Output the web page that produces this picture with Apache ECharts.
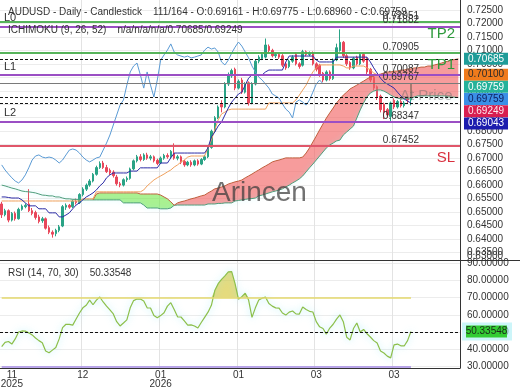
<!DOCTYPE html>
<html><head><meta charset="utf-8">
<script src="https://cdn.jsdelivr.net/npm/echarts@6/dist/echarts.min.js"></script>
<style>html,body{margin:0;padding:0;background:#fff}#c{width:520px;height:390px}</style>
</head><body><div id="c"></div>
<script>
const FONT = 'Liberation Sans, Arial, sans-serif';
const SLOTS = 136;
const xLabels = ['11\n2025','12','01\n2026','01','03','03'];
const xLabelIdx = [3,24,47,70,93,116];
const xGridIdx = [24,47,70,93,116];
const yTicks = [0.635,0.64,0.645,0.65,0.655,0.66,0.665,0.67,0.675,0.68,0.685,0.69,0.695,0.70,0.705,0.71,0.715,0.72,0.725];
const yBottomLabel = '0.63000';
const rsiTicks = [30,40,50,60,70,80,90];

const open = [
0.6530,0.6490,0.6505,0.6470,0.6495,0.6475,0.6510,0.6520,0.6530,0.6505,
0.6498,0.6482,0.6468,0.6475,0.6442,0.6425,0.6420,0.6432,0.6448,0.6518,
0.6525,0.6520,0.6540,0.6535,0.6565,0.6585,0.6600,0.6615,0.6640,0.6665,
0.6682,0.6665,0.6655,0.6648,0.6630,0.6605,0.6600,0.6620,0.6625,0.6660,
0.6690,0.6705,0.6695,0.6712,0.6700,0.6705,0.6692,0.6682,0.6700,0.6710,
0.6705,0.6718,0.6700,0.6705,0.6688,0.6675,0.6685,0.6675,0.6690,0.6678,
0.6695,0.6705,0.6740,0.6800,0.6850,0.6900,0.6890,0.6975,0.7005,0.7030,
0.6960,0.6990,0.6945,0.6980,0.6905,0.6975,0.7060,0.7070,0.7075,0.7115,
0.7100,0.7080,0.7085,0.7080,0.7050,0.7040,0.7060,0.7085,0.7050,0.7045,
0.7095,0.7085,0.7090,0.7050,0.7045,0.7015,0.6990,0.7020,0.6995,0.7065,
0.7100,0.7130,0.7080,0.7055,0.7035,0.7075,0.7050,0.7085,0.7070,0.7030,
0.7000,0.6965,0.6930,0.6900,0.6880,0.6855,0.6915,0.6890,0.6910,0.6895,
0.6920,0.69161];
const close = [
0.6490,0.6505,0.6470,0.6495,0.6475,0.6510,0.6522,0.6525,0.6505,0.6495,
0.6480,0.6465,0.6475,0.6440,0.6425,0.6418,0.6432,0.6445,0.6520,0.6525,
0.6518,0.6540,0.6535,0.6565,0.6585,0.6600,0.6615,0.6640,0.6665,0.6680,
0.6665,0.6650,0.6645,0.6635,0.6605,0.6600,0.6620,0.6625,0.6660,0.6690,
0.6705,0.6695,0.6712,0.6700,0.6705,0.6690,0.6680,0.6700,0.6710,0.6705,
0.6725,0.6700,0.6705,0.6685,0.6675,0.6685,0.6675,0.6690,0.6678,0.6695,
0.6705,0.6740,0.6800,0.6850,0.6890,0.6890,0.6975,0.7010,0.7025,0.6960,
0.6985,0.6945,0.6975,0.6905,0.6975,0.7060,0.7075,0.7085,0.7120,0.7100,
0.7080,0.7085,0.7075,0.7045,0.7035,0.7060,0.7075,0.7050,0.7040,0.7095,
0.7085,0.7090,0.7050,0.7030,0.7010,0.6990,0.7020,0.6995,0.7065,0.7110,
0.7130,0.7080,0.7050,0.7035,0.7070,0.7050,0.7085,0.7060,0.7020,0.6990,
0.6960,0.6925,0.6880,0.6870,0.6860,0.6905,0.6890,0.6910,0.6895,0.6905,
0.6916,0.69759];
const low = [
0.6478,0.6484,0.6462,0.6465,0.6468,0.6472,0.6505,0.6514,0.6500,0.6488,
0.6472,0.6458,0.6460,0.6435,0.6418,0.6405,0.6410,0.6425,0.6444,0.6508,
0.6512,0.6515,0.6528,0.6530,0.6558,0.6578,0.6594,0.6610,0.6635,0.6660,
0.6660,0.6645,0.6638,0.6628,0.6598,0.6592,0.6595,0.6612,0.6620,0.6655,
0.6684,0.6688,0.6690,0.6694,0.6692,0.6684,0.6674,0.6678,0.6694,0.6698,
0.6700,0.6694,0.6692,0.6678,0.6668,0.6670,0.6668,0.6670,0.6672,0.6674,
0.6690,0.6700,0.6735,0.6795,0.6845,0.6870,0.6885,0.6968,0.6998,0.6952,
0.6955,0.6938,0.6940,0.6895,0.6900,0.6970,0.7052,0.7064,0.7070,0.7092,
0.7074,0.7072,0.7068,0.7038,0.7028,0.7034,0.7054,0.7044,0.7032,0.7040,
0.7078,0.7078,0.7044,0.7022,0.7002,0.6982,0.6985,0.6988,0.6990,0.7060,
0.7095,0.7072,0.7042,0.7028,0.7030,0.7044,0.7045,0.7054,0.7012,0.6982,
0.6952,0.6916,0.6870,0.6845,0.6850,0.6835,0.6882,0.6884,0.6888,0.6888,
0.6905,0.68960];
const high = [
0.6538,0.6512,0.6510,0.6500,0.6502,0.6516,0.6528,0.6532,0.6585,0.6515,
0.6505,0.6490,0.6482,0.6480,0.6450,0.6432,0.6438,0.6452,0.6526,0.6532,
0.6530,0.6546,0.6550,0.6570,0.6592,0.6606,0.6622,0.6645,0.6672,0.6688,
0.6690,0.6675,0.6662,0.6655,0.6638,0.6612,0.6625,0.6632,0.6665,0.6695,
0.6712,0.6715,0.6718,0.6720,0.6712,0.6710,0.6698,0.6706,0.6716,0.6718,
0.6730,0.6755,0.6712,0.6710,0.6694,0.6690,0.6692,0.6695,0.6696,0.6700,
0.6712,0.6745,0.6806,0.6856,0.6896,0.6915,0.6982,0.7018,0.7032,0.7036,
0.6992,0.6998,0.6982,0.6985,0.6982,0.7066,0.7082,0.7092,0.7144,0.7122,
0.7106,0.7092,0.7090,0.7086,0.7056,0.7066,0.7082,0.7092,0.7056,0.7102,
0.7100,0.7096,0.7096,0.7056,0.7050,0.7020,0.7026,0.7026,0.7070,0.7125,
0.7178,0.7135,0.7086,0.7060,0.7076,0.7080,0.7092,0.7090,0.7075,0.7035,
0.7005,0.6970,0.6936,0.6906,0.6886,0.6910,0.6922,0.6916,0.6918,0.6912,
0.6930,0.69775];

const tenkan = [
0.6556,0.6556,0.6554,0.6552,0.6552,0.6552,0.6545,0.6534,0.6523,0.6523,
0.6523,0.6512,0.6512,0.6512,0.6497,0.6497,0.6497,0.6482,0.6482,0.6489,
0.6497,0.6512,0.6526,0.6534,0.6545,0.6556,0.6563,0.6571,0.6582,0.6597,
0.6608,0.6627,0.6638,0.6645,0.6645,0.6645,0.6645,0.6645,0.6652,0.6652,
0.6652,0.6664,0.6664,0.6664,0.6664,0.6664,0.6664,0.6682,0.6682,0.6682,
0.6701,0.6719,0.6719,0.6719,0.6719,0.6719,0.6719,0.6719,0.6719,0.6719,
0.6719,0.6738,0.6779,0.6797,0.6819,0.6834,0.6860,0.6886,0.6908,0.6923,
0.6938,0.6945,0.6971,0.6997,0.7009,0.7009,0.7009,0.7009,0.7020,0.7027,
0.7027,0.7027,0.7027,0.7027,0.7057,0.7079,0.7079,0.7079,0.7079,0.7079,
0.7079,0.7079,0.7079,0.7064,0.7057,0.7057,0.7057,0.7057,0.7057,0.7075,
0.7075,0.7075,0.7075,0.7075,0.7075,0.7075,0.7075,0.7075,0.7075,0.7057,
0.7035,0.7016,0.6997,0.6983,0.6975,0.6968,0.6960,0.6945,0.6931,0.6920,
0.6912,0.69043];
const kijun = [
0.6541,0.6541,0.6541,0.6541,0.6541,0.6541,0.6541,0.6541,0.6541,0.6541,
0.6541,0.6541,0.6541,0.6541,0.6541,0.6541,0.6541,0.6541,0.6541,0.6541,
0.6541,0.6541,0.6541,0.6541,0.6549,0.6549,0.6549,0.6549,0.6575,0.6575,
0.6575,0.6575,0.6575,0.6575,0.6575,0.6575,0.6575,0.6575,0.6575,0.6575,
0.6575,0.6575,0.6582,0.6597,0.6608,0.6619,0.6627,0.6634,0.6641,0.6649,
0.6656,0.6667,0.6675,0.6686,0.6693,0.6704,0.6708,0.6708,0.6708,0.6708,
0.6708,0.6738,0.6767,0.6805,0.6842,0.6864,0.6871,0.6879,0.6882,0.6882,
0.6882,0.6882,0.6882,0.6882,0.6882,0.6882,0.6882,0.6882,0.6882,0.6905,
0.6905,0.6905,0.6905,0.6905,0.6905,0.6905,0.6905,0.6916,0.6934,0.6953,
0.6971,0.6997,0.7020,0.7035,0.7046,0.7046,0.7046,0.7046,0.7046,0.7046,
0.7046,0.7042,0.7035,0.7035,0.7042,0.7042,0.7042,0.7042,0.7035,0.7027,
0.7016,0.7010,0.7010,0.7010,0.7010,0.7010,0.7010,0.7010,0.7010,0.7010,
0.7010,0.7010];
const chikou = [
0.6675,0.6656,0.6641,0.6627,0.6615,0.6608,0.6619,0.6638,0.6664,0.6693,
0.6708,0.6712,0.6704,0.6701,0.6704,0.6701,0.6693,0.6682,0.6693,0.6712,
0.6730,0.6734,0.6730,0.6719,0.6704,0.6693,0.6686,0.6693,0.6701,0.6704,
0.6730,0.6756,0.6786,0.6823,0.6860,0.6897,0.6916,0.6971,0.7020,0.7042,
0.7053,0.7009,0.6960,0.7020,0.6971,0.6927,0.6990,0.7064,0.7083,0.7101,
0.7124,0.7094,0.7083,0.7079,0.7075,0.7079,0.7072,0.7075,0.7079,0.7083,
0.7101,0.7112,0.7105,0.7109,0.7094,0.7057,0.7046,0.7064,0.7090,0.7112,
0.7131,0.7116,0.7094,0.7072,0.7042,0.7020,0.7001,0.6990,0.6975,0.6960,
0.6938,0.6931,0.6923,0.6901,0.6882,0.6871,0.6849,0.6908,0.6916,0.6908,
0.6897,0.6916,0.6945,0.6975,0.6990,0.69759];
const spanA = [
0.6600,0.6597,0.6593,0.6589,0.6586,0.6582,0.6578,0.6576,0.6575,0.6573,
0.6571,0.6567,0.6563,0.6562,0.6560,0.6560,0.6556,0.6556,0.6552,0.6549,
0.6549,0.6547,0.6547,0.6545,0.6545,0.6545,0.6545,0.6545,0.6545,0.6545,
0.6545,0.6545,0.6545,0.6545,0.6545,0.6545,0.6534,0.6534,0.6534,0.6534,
0.6534,0.6534,0.6526,0.6515,0.6515,0.6515,0.6515,0.6512,0.6512,0.6512,
0.6515,0.6525,0.6526,0.6526,0.6526,0.6526,0.6526,0.6526,0.6526,0.6526,
0.6526,0.6530,0.6530,0.6530,0.6532,0.6532,0.6534,0.6534,0.6534,0.6541,
0.6543,0.6545,0.6547,0.6549,0.6550,0.6552,0.6560,0.6563,0.6567,0.6571,
0.6575,0.6578,0.6582,0.6586,0.6593,0.6600,0.6608,0.6615,0.6623,0.6634,
0.6649,0.6664,0.6678,0.6693,0.6708,0.6723,0.6738,0.6749,0.6756,0.6764,
0.6767,0.6786,0.6797,0.6808,0.6819,0.6849,0.6879,0.6905,0.6927,0.6942,
0.6949,0.6953,0.6953,0.6949,0.6942,0.6934,0.6927,0.6923,0.6920,0.6920,
0.6923,0.6923,0.6927,0.6931,0.6931,0.6931,0.6931,0.6931,0.6931,0.6931,
0.6931,0.6931,0.6927,0.6927,0.6926,0.69249];
const spanB = [
null,null,null,null,null,null,null,null,null,null,
null,null,null,null,null,null,null,null,null,null,
null,null,null,null,null,null,null,0.6545,0.6567,0.6571,
0.6571,0.6571,0.6571,0.6571,0.6571,0.6571,0.6571,0.6571,0.6571,0.6571,
0.6571,0.6567,0.6567,0.6567,0.6567,0.6567,0.6567,0.6563,0.6556,0.6549,
0.6538,0.6525,0.6534,0.6538,0.6541,0.6545,0.6549,0.6552,0.6556,0.6560,
0.6563,0.6571,0.6578,0.6586,0.6589,0.6593,0.6597,0.6604,0.6608,0.6612,
0.6615,0.6619,0.6627,0.6634,0.6641,0.6649,0.6656,0.6664,0.6671,0.6678,
0.6686,0.6690,0.6693,0.6697,0.6701,0.6701,0.6701,0.6701,0.6701,0.6704,
0.6719,0.6738,0.6760,0.6782,0.6805,0.6827,0.6849,0.6868,0.6886,0.6905,
0.6920,0.6934,0.6945,0.6957,0.6964,0.6971,0.6979,0.6986,0.6994,0.7001,
0.7005,0.7009,0.7012,0.7016,0.7020,0.7020,0.7023,0.7023,0.7027,0.7027,
0.7031,0.7031,0.7035,0.7035,0.7038,0.7038,0.7042,0.7042,0.7046,0.7049,
0.7053,0.7057,0.7060,0.7064,0.7066,0.70685];
const GREEN_END = 51;

const rsi = [
41.5,44,44.5,43,46,50,50.6,50.5,49.5,48.3,
46.5,45,43.8,39,38,39.5,41,46,52.5,54.5,
54.4,54,57.5,61,64,65.5,68.5,65.8,68.5,70.3,
67.4,65,62.8,60.5,56,53.5,55.2,57,64,68.2,
69.1,69.1,68,64,63.9,59.5,58.2,59.5,61.2,65,
67,63,58.8,58.7,56.5,54,54.1,53.5,52.3,55.5,
58.5,61.5,65.5,74,78,80.5,82.5,84.8,85,78,
69,70.5,72.5,68.5,58.5,64,68.5,69.6,70.2,66.5,
65,64,63.8,61,59.8,61.5,62.2,60.5,60.4,64.5,
63,62,61.6,56,53,52,48.8,52.3,54.5,57.5,
59.9,56,47,45.4,52,55.2,50,51.5,49,47.1,
45,43.6,39,37.8,36,35,42.5,43,42,41.9,
45,50.33548];

const levelVals = [0.72051,0.71882,0.70905,0.70685,0.70087,0.69767,0.69249,0.69043,0.68347,0.67452];
const levelText = ['0.72051','0.71882','0.70905','0.70685','0.70087','0.69767','0.69249','0.69043','0.68347','0.67452'];
const levelKind = ['green','purple','green','dash','purple','gray','dash','dash','purple','red'];
const levelLeft = {0.71882:'L0',0.70087:'L1',0.68347:'L2'};
const levelBig = {0.72051:'TP2',0.70905:'TP1',0.67452:'SL'};
const tagVals = [0.70685,0.70100,0.69759,0.69759,0.69249,0.69043];
const tagFill = ['#1f9c98','#f07b1c','#25b29a','#3b8fe6','#d81e50','#1c1cae'];
const tagText = ['#ffffff','#2a2a2a','#ffffff','#102060','#ffe8ee','#ffffff'];
const rsiLast = 50.33548;

const cats = Array.from({length: SLOTS}, (_, i) => String(i));
const candles = open.map((o, i) => [o, close[i], low[i], high[i]]);
const baseG = [], diffG = [], baseR = [], diffR = [];
for (let i = 0; i < SLOTS; i++) {
  const a = spanA[i], b = spanB[i];
  const ok = a != null && b != null;
  const lo = ok ? Math.min(a, b) : null, d = ok ? Math.abs(a - b) : null;
  baseG.push(ok && i <= GREEN_END ? lo : null);
  diffG.push(ok && i <= GREEN_END ? d : null);
  baseR.push(ok && i >= GREEN_END ? lo : null);
  diffR.push(ok && i >= GREEN_END ? d : null);
}
const rsiOver = rsi.map(v => Math.max(v, 70));

const styleOf = {
  green: {color:'#4caf50', width:1.5, type:'solid'},
  purple: {color:'#9b4fc4', width:1.8, type:'solid'},
  dash: {color:'#111111', width:1, type:[3,2]},
  gray: {color:'#7a7a7a', width:1, type:'solid'},
  red: {color:'#e0566a', width:2, type:'solid'}
};
const mlData = [];
levelVals.forEach((v, k) => {
  const kind = levelKind[k];
  mlData.push({yAxis: v, lineStyle: styleOf[kind], label: {show: kind !== 'dash', position:'insideEndTop', distance:[41,1],
    formatter: levelText[k], color:'#333', fontSize:10, fontFamily: FONT}});
  if (levelLeft[v]) mlData.push({yAxis: v, lineStyle: styleOf[kind], label: {show:true, position:'insideStartTop', distance:[4,3],
    formatter: levelLeft[v], color:'#333', fontSize:11, fontFamily: FONT}});
  if (levelBig[v]) mlData.push({yAxis: v, lineStyle: styleOf[kind], label: {show:true, position:'insideEndBottom', distance:[5,4],
    formatter: levelBig[v], color: kind === 'red' ? '#d9303e' : '#2e9a3c', fontSize:15, fontFamily: FONT}});
});

const lineS = (name, data, color, extra) => Object.assign({
  type:'line', name, data, xAxisIndex:0, yAxisIndex:0, symbol:'none', silent:true,
  lineStyle:{color, width:1}, connectNulls:false
}, extra || {});

const option = {
  animation: false,
  backgroundColor: '#fff',
  textStyle: {fontFamily: FONT},
  grid: [
    {left:0, right:60, top:0, height:260, outerBoundsMode:'none', containLabel:false},
    {left:0, right:60, top:260, height:108, outerBoundsMode:'none', containLabel:false}
  ],
  xAxis: [
    {type:'category', gridIndex:0, data:cats, boundaryGap:true,
     axisLine:{show:true, lineStyle:{color:'#333', width:1}}, axisTick:{show:false}, axisLabel:{show:false},
     splitLine:{show:true, interval:(i) => xGridIdx.includes(i), lineStyle:{color:'#e3e3e3', width:1}}},
    {type:'category', gridIndex:1, data:cats, boundaryGap:true,
     axisLine:{show:true, lineStyle:{color:'#333', width:1}}, axisTick:{show:false},
     axisLabel:{show:true, interval:(i) => xLabelIdx.includes(i), formatter:(v, i) => { const k = xLabelIdx.indexOf(i); return k >= 0 ? xLabels[k] : ''; },
       color:'#333', fontSize:10, lineHeight:9, margin:3, fontFamily:FONT, hideOverlap:false},
     splitLine:{show:true, interval:(i) => xGridIdx.includes(i), lineStyle:{color:'#e3e3e3', width:1}}}
  ],
  yAxis: [
    {type:'value', gridIndex:0, position:'right', min:0.6322, max:0.7287, scale:true,
     axisLine:{show:true, lineStyle:{color:'#333', width:1}},
     axisTick:{show:false, customValues: yTicks},
     axisLabel:{customValues: yTicks, hideOverlap:false, formatter: v => v.toFixed(5), color:'#333', fontSize:10, margin:7, fontFamily:FONT},
     splitLine:{show:true, lineStyle:{color:'#ececec', width:1}}},
    {type:'value', gridIndex:1, position:'right', min:29.13, max:91.74,
     axisLine:{show:true, lineStyle:{color:'#333', width:1}},
     axisTick:{show:false, customValues: rsiTicks},
     axisLabel:{customValues: rsiTicks, hideOverlap:false, formatter: v => v.toFixed(5), color:'#333', fontSize:10, margin:7, fontFamily:FONT},
     splitLine:{show:true, lineStyle:{color:'#ececec', width:1}}}
  ],
  series: [
    lineS('baseG', baseG, 'transparent', {stack:'g', lineStyle:{opacity:0}}),
    lineS('cloudG', diffG, 'transparent', {stack:'g', lineStyle:{opacity:0}, areaStyle:{color:'rgba(110,232,70,0.85)'}}),
    lineS('baseR', baseR, 'transparent', {stack:'r', lineStyle:{opacity:0}}),
    lineS('cloudR', diffR, 'transparent', {stack:'r', lineStyle:{opacity:0}, areaStyle:{color:'rgba(242,98,98,0.9)'}}),
    lineS('spanA', spanA, '#4f9e7c', {lineStyle:{color:'#4f9e7c', width:1, shadowColor:'rgba(150,240,250,0.6)', shadowBlur:5}}),
    lineS('spanB', spanB, '#c0603e'),
    lineS('kijun', kijun, '#f0a05c'),
    lineS('tenkan', tenkan, '#2b2ba6'),
    lineS('chikou', chikou, '#5b9bd5'),
    {type:'candlestick', name:'AUDUSD', xAxisIndex:0, yAxisIndex:0, data:candles, barWidth:2, silent:true,
     itemStyle:{color:'#2aa386', color0:'#e8475a', borderColor:'#2aa386', borderColor0:'#e8475a', borderWidth:1},
     markLine:{symbol:['none','none'], silent:true, animation:false, precision:5, data: mlData}},
    {type:'line', name:'rsiOver', xAxisIndex:1, yAxisIndex:1, data:rsiOver, symbol:'none', silent:true,
     lineStyle:{opacity:0}, areaStyle:{origin:70, color:'rgba(214,198,50,0.9)'}},
    {type:'line', name:'RSI', xAxisIndex:1, yAxisIndex:1, data:rsi, symbol:'none', silent:true,
     lineStyle:{color:'#8cbf4a', width:1.2, shadowColor:'rgba(140,232,245,0.8)', shadowBlur:7},
     markLine:{symbol:['none','none'], silent:true, animation:false, precision:5, label:{show:false},
       data:[
         {yAxis:50, lineStyle:{color:'#111', width:1, type:[3,2]}},
         [{coord:['0',70], lineStyle:{color:'#e4d86c', width:1.5, type:'solid'}}, {coord:['121',70]}],
         [{coord:['0',30], lineStyle:{color:'#a58ae6', width:1.5, type:'solid'}}, {coord:['121',30]}]
       ]}}
  ]
};

const chart = echarts.init(document.getElementById('c'), null, {renderer:'canvas'});
chart.setOption(option);

const g = [];
const txt = (x, y, text, size, fill, align) => ({type:'text', x, y, z:101, silent:true,
  style:{text, fill, font: size + 'px ' + FONT, align: align || 'left', verticalAlign:'middle'}});
g.push({type:'line', z:100, silent:true, shape:{x1:460, y1:260.5, x2:520, y2:260.5}, style:{stroke:'#333', lineWidth:1}});
const gridBottom = chart.convertToPixel({yAxisIndex:0}, 0.6322);
g.push(txt(467, gridBottom - 4, yBottomLabel, 10, '#333'));
g.push(txt(8, 12.5, 'AUDUSD - Daily - Candlestick    111/164 - O:0.69161 - H:0.69775 - L:0.68960 - C:0.69759', 10, '#333'));
g.push(txt(8, 30, 'ICHIMOKU (9, 26, 52)    n/a/n/a/n/a/0.70685/0.69249', 10, '#333'));
g.push(txt(8, 273, 'RSI (14, 70, 30)    ' + rsiLast.toFixed(5), 10, '#333'));
g.push(txt(212, 193, 'Arincen', 28, 'rgba(60,60,60,0.72)'));
g.push(txt(400, 96, 'At Price', 15, 'rgba(105,105,105,0.45)'));
let prev = -1e9;
tagVals.forEach((v, k) => {
  const y = Math.max(chart.convertToPixel({yAxisIndex:0}, v), prev + 12.2);
  prev = y;
  g.push({type:'rect', z:100, silent:true, shape:{x:464, y:y-6, width:44, height:12}, style:{fill:tagFill[k]}});
  g.push(txt(486, y, v.toFixed(5), 10, tagText[k], 'center'));
});
const ry = chart.convertToPixel({yAxisIndex:1}, rsiLast);
g.push({type:'rect', z:100, silent:true, shape:{x:462, y:ry-9, width:50, height:18}, style:{fill:'rgba(170,238,245,0.6)'}});
g.push({type:'rect', z:100, silent:true, shape:{x:466, y:ry-6, width:41, height:12}, style:{fill:'#33cc33'}});
g.push(txt(486.5, ry, rsiLast.toFixed(5), 10, '#1a2a1a', 'center'));
chart.setOption({graphic: g});
</script></body></html>
